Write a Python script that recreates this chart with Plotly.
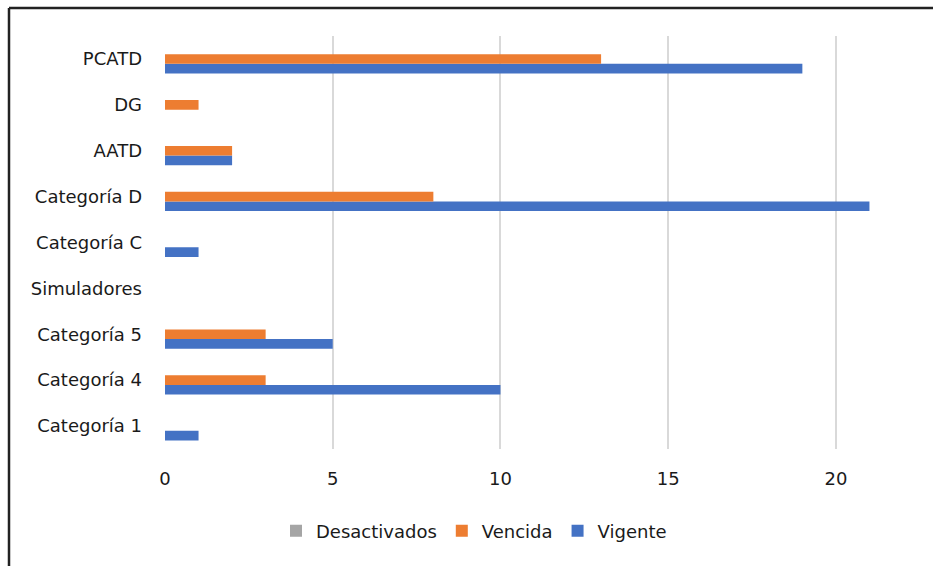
import plotly.graph_objects as go

categories = ["Categoría 1", "Categoría 4", "Categoría 5", "Simuladores", "Categoría C",
              "Categoría D", "AATD", "DG", "PCATD"]
vigente = [1, 10, 5, 0, 1, 21, 2, 0, 19]
vencida = [0, 3, 3, 0, 0, 8, 2, 1, 13]
desactivados = [0, 0, 0, 0, 0, 0, 0, 0, 0]
x_ticks = [0, 5, 10, 15, 20]

FONT = "DejaVu Sans"
FS = 18
fig = go.Figure()
fig.add_trace(go.Bar(y=categories, x=vigente, name="Vigente", orientation="h",
                     marker=dict(color="#4472C4", line=dict(width=0))))
fig.add_trace(go.Bar(y=categories, x=vencida, name="Vencida", orientation="h",
                     marker=dict(color="#ED7D31", line=dict(width=0))))
fig.add_trace(go.Bar(y=categories, x=desactivados, name="Desactivados", orientation="h",
                     marker=dict(color="#A5A5A5", line=dict(width=0))))

W, H = 933, 566
L, T, R, B = 165, 36, 30, 117
pw, ph = W - L - R, H - T - B

def px_x(px):
    return (px - L) / pw

def px_y(py):
    return (H - B - py) / ph

fig.update_layout(
    width=W, height=H,
    margin=dict(l=L, r=R, t=T, b=B, pad=0),
    paper_bgcolor="white", plot_bgcolor="white",
    barmode="group", bargap=0.37, bargroupgap=0,
    font=dict(family=FONT, size=FS, color="#1a1a1a"),
    xaxis=dict(range=[0, 22], tickvals=x_ticks, showgrid=True, gridcolor="#D9D9D9",
               gridwidth=1.5, zeroline=False, showline=False, ticks="",
               ticklabelstandoff=17, tickfont=dict(size=FS)),
    yaxis=dict(categoryorder="array", categoryarray=categories, showgrid=False,
               zeroline=False, showline=False, ticks="", ticklabelstandoff=22,
               tickfont=dict(size=FS)),
    legend=dict(orientation="h", traceorder="reversed", x=px_x(276), xanchor="left",
                y=px_y(531), yanchor="middle", font=dict(size=FS), itemclick=False),
    showlegend=True,
    shapes=[
        dict(type="line", xref="paper", yref="paper", x0=px_x(9), x1=px_x(9),
             y0=px_y(8), y1=px_y(600), line=dict(color="#222222", width=2.5)),
        dict(type="line", xref="paper", yref="paper", x0=px_x(9), x1=px_x(960),
             y0=px_y(8), y1=px_y(8), line=dict(color="#222222", width=2.5)),
    ],
)
fig.write_html(
    "out.html",
    config={"displayModeBar": False},
    post_script="document.body.style.margin='0';document.body.style.overflow='hidden';"
                "document.documentElement.style.overflow='hidden';",
)
